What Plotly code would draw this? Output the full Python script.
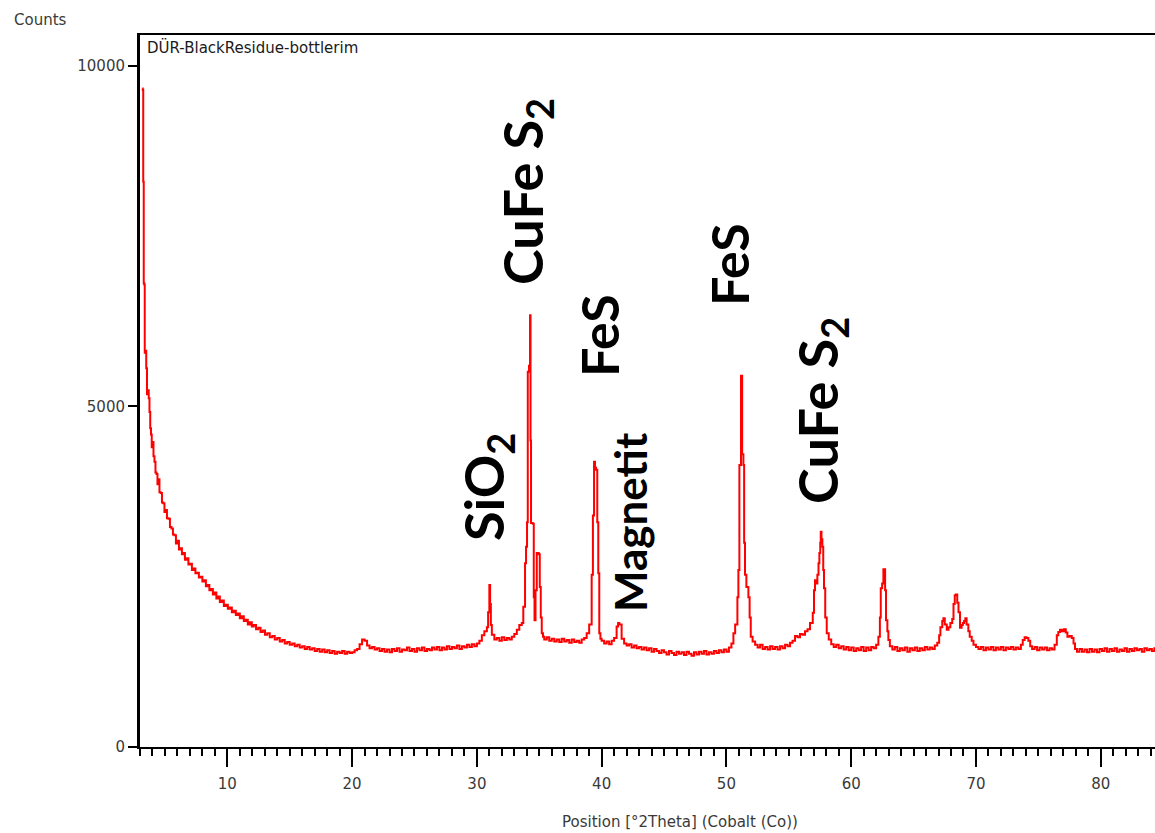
import plotly.graph_objects as go

# ---- data ----
theta_low = [3.18, 3.22, 3.26, 3.30, 3.34, 3.38, 3.44, 3.50, 3.56, 3.62, 3.70, 3.76, 3.82, 3.88, 3.94,
             4.00, 4.08, 4.16, 4.24, 4.32, 4.40, 4.48, 4.56, 4.66, 4.76, 4.86, 4.96, 5.06, 5.16, 5.28,
             5.40, 5.52, 5.64, 5.76, 5.88, 6.00, 6.12, 6.24, 6.36, 6.48, 6.60, 6.74, 6.88, 7.02, 7.16,
             7.30, 7.44, 7.58, 7.72, 7.86, 8.00, 8.14, 8.28, 8.42, 8.56, 8.70, 8.84, 8.98, 9.12, 9.26,
             9.40, 9.56, 9.72, 9.88, 10.04, 10.20, 10.36, 10.52, 10.68, 10.84, 11.00, 11.16, 11.32,
             11.48, 11.64, 11.80, 11.96, 12.12, 12.30, 12.48, 12.66, 12.84, 13.02, 13.20, 13.40, 13.60,
             13.80, 14.00, 14.20, 14.40, 14.60, 14.80, 15.00, 15.20, 15.40, 15.60, 15.80, 16.00, 16.20,
             16.40, 16.60, 16.80, 17.00, 17.20, 17.40, 17.60, 17.80, 18.00, 18.20, 18.40, 18.60, 18.80,
             19.00, 19.20, 19.40, 19.60, 19.80]
counts_low = [9670, 9650, 8300, 6810, 6790, 5790, 5820, 5560, 5180, 5240, 5120, 4920, 4680, 4590, 4400,
              4480, 4270, 4190, 4030, 4010, 3860, 3930, 3740, 3730, 3590, 3580, 3450, 3480, 3360, 3350,
              3230, 3210, 3120, 3110, 2990, 3030, 2900, 2920, 2830, 2850, 2750, 2770, 2680, 2690, 2600,
              2620, 2550, 2560, 2490, 2500, 2430, 2450, 2360, 2380, 2300, 2320, 2240, 2270, 2180, 2210,
              2130, 2150, 2070, 2090, 2030, 2050, 1980, 2000, 1940, 1960, 1890, 1920, 1850,
              1870, 1800, 1830, 1770, 1790, 1730, 1750, 1690, 1710, 1650, 1670, 1610, 1630,
              1580, 1600, 1550, 1570, 1520, 1540, 1500, 1520, 1480, 1500, 1460, 1480, 1440,
              1470, 1430, 1450, 1410, 1440, 1400, 1430, 1390, 1420, 1380, 1410, 1370, 1400,
              1380, 1410, 1370, 1400, 1380]

theta_mid = [20.0, 20.2, 20.4, 20.6, 20.8, 21.0, 21.2, 21.4, 21.6, 21.8, 22.0, 22.2, 22.4, 22.6, 22.8,
             23.0, 23.2, 23.4, 23.6, 23.8, 24.0, 24.2, 24.4, 24.6, 24.8, 25.0, 25.2, 25.4, 25.6, 25.8,
             26.0, 26.2, 26.4, 26.6, 26.8, 27.0, 27.2, 27.4, 27.6, 27.8, 28.0, 28.2, 28.4, 28.6, 28.8,
             29.0, 29.2, 29.4, 29.6, 29.8, 30.0, 30.2, 30.4, 30.6, 30.8, 30.9, 31.0, 31.06, 31.12, 31.2,
             31.4, 31.6, 31.8, 32.0, 32.2, 32.4, 32.6, 32.8, 33.0, 33.2, 33.4, 33.6, 33.72, 33.86, 33.94,
             34.02, 34.08, 34.18, 34.26, 34.30, 34.34, 34.48, 34.56, 34.62, 34.70, 34.80, 34.96, 35.04,
             35.12, 35.2, 35.3, 35.4, 35.6, 35.8, 36.0, 36.2, 36.4, 36.6, 36.8, 37.0, 37.2, 37.4, 37.6,
             37.8, 38.0, 38.2, 38.4, 38.6, 38.8, 39.0, 39.2, 39.3, 39.39, 39.47, 39.55, 39.65, 39.73,
             39.81, 39.9, 40.0, 40.2, 40.4, 40.6, 40.8, 41.0, 41.2, 41.32, 41.42, 41.6, 41.8]
counts_mid = [1390, 1420, 1440, 1510, 1580, 1560, 1490, 1450, 1470, 1430, 1450, 1410, 1440, 1400, 1430,
              1390, 1440, 1410, 1450, 1400, 1430, 1420, 1460, 1410, 1440, 1400, 1450, 1420, 1460, 1410,
              1440, 1420, 1460, 1430, 1470, 1420, 1460, 1430, 1480, 1440, 1470, 1450, 1490, 1440, 1480,
              1460, 1500, 1470, 1510, 1480, 1520, 1560, 1640, 1700, 1760, 1980, 2380, 2100, 1790, 1650,
              1580, 1600, 1560, 1610, 1570, 1600, 1580, 1620, 1660, 1720, 1790, 1820, 2060, 2700, 2940,
              3300, 5510, 5600, 6340, 4500, 3290, 3280, 2200, 1860, 2300, 2850, 2830, 2350,
              1900, 1670, 1620, 1580, 1610, 1560, 1590, 1550, 1580, 1540, 1590, 1550, 1570, 1530, 1580,
              1540, 1560, 1530, 1580, 1600, 1670, 1800, 2530, 3400, 4190, 4100, 4070, 3300, 2550,
              1670, 1590, 1560, 1520, 1550, 1510, 1560, 1600, 1770, 1820, 1800, 1590, 1520]

theta_high = [42.0, 42.2, 42.4, 42.6, 42.8, 43.0, 43.2, 43.4, 43.6, 43.8, 44.0, 44.2, 44.4, 44.6, 44.8,
              45.0, 45.2, 45.4, 45.6, 45.8, 46.0, 46.2, 46.4, 46.6, 46.8, 47.0, 47.2, 47.4, 47.6, 47.8,
              48.0, 48.2, 48.4, 48.6, 48.8, 49.0, 49.2, 49.4, 49.6, 49.8, 50.0, 50.2, 50.4, 50.56, 50.7,
              50.88, 50.96, 51.04, 51.17, 51.26, 51.36, 51.42, 51.49, 51.6, 51.76, 51.86, 51.95, 52.1,
              52.3, 52.5, 52.7, 52.9, 53.1, 53.3, 53.5, 53.7, 53.9, 54.1, 54.3, 54.5, 54.7, 54.9, 55.1,
              55.3, 55.5, 55.7, 55.9, 56.1, 56.3, 56.5, 56.7, 56.92, 57.02, 57.1, 57.2, 57.29, 57.38,
              57.45, 57.52, 57.56, 57.62, 57.69, 57.76, 57.82, 57.92, 58.04, 58.2, 58.4, 58.6, 58.8,
              59.0, 59.2, 59.4, 59.6, 59.8, 60.0, 60.2, 60.4, 60.6, 60.8, 61.0, 61.2, 61.4, 61.6, 61.8]
counts_high = [1490, 1510, 1460, 1490, 1450, 1470, 1430, 1460, 1420, 1450, 1400, 1440, 1410, 1380, 1420,
               1390, 1360, 1410, 1380, 1350, 1400, 1370, 1390, 1350, 1400, 1370, 1340, 1390, 1360, 1400,
               1370, 1410, 1360, 1390, 1370, 1410, 1380, 1420, 1390, 1430, 1400, 1460, 1520, 1670, 1800,
               2200, 2600, 4140, 5450, 4300, 4140, 3000, 2530, 2350, 2200, 1900, 1620, 1550,
               1500, 1460, 1500, 1440, 1470, 1430, 1480, 1440, 1470, 1430, 1480, 1450, 1500, 1480, 1530,
               1560, 1630, 1610, 1660, 1650, 1700, 1730, 1820, 1970, 2300, 2450, 2400, 2530, 2700,
               2850, 3000, 3160, 3050, 2940, 2600, 2330, 1900, 1670, 1580, 1510, 1470, 1500,
               1450, 1480, 1430, 1470, 1420, 1460, 1410, 1450, 1420, 1470, 1410, 1460, 1420, 1470, 1450]

theta_tail = [62.0, 62.18, 62.3, 62.37, 62.48, 62.58, 62.66, 62.72, 62.79, 62.9, 62.98, 63.1, 63.3, 63.5,
              63.7, 63.9, 64.1, 64.3, 64.5, 64.7, 64.9, 65.1, 65.3, 65.5, 65.7, 65.9, 66.1, 66.3, 66.5,
              66.7, 66.9, 67.05, 67.15, 67.3, 67.39, 67.5, 67.66, 67.8, 67.95, 68.1, 68.2, 68.3, 68.4,
              68.5, 68.6, 68.72, 68.85, 68.95, 69.05, 69.15, 69.25, 69.39, 69.5, 69.66, 69.8, 70.0, 70.2,
              70.4, 70.6, 70.8, 71.0, 71.2, 71.4, 71.6, 71.8, 72.0, 72.2, 72.4, 72.6, 72.8, 73.0, 73.2,
              73.4, 73.6, 73.75, 73.9, 74.05, 74.2, 74.35, 74.5, 74.7, 74.9, 75.1, 75.3, 75.5, 75.7,
              75.9, 76.1, 76.3, 76.48, 76.6, 76.74, 76.9, 77.06, 77.2, 77.33, 77.5, 77.68, 77.82, 77.94,
              78.1, 78.3, 78.5, 78.7, 78.9, 79.1, 79.3, 79.5, 79.7, 79.9, 80.1, 80.3, 80.5, 80.7, 80.9,
              81.1, 81.3, 81.5, 81.7, 81.9, 82.1, 82.3, 82.5, 82.7, 82.9, 83.1, 83.3, 83.5, 83.7, 83.9,
              84.1, 84.3, 84.5, 85.0]
counts_tail = [1500, 1620, 1900, 2330, 2400, 2610, 2610, 2300, 1860, 1700, 1570, 1480, 1430, 1470,
               1410, 1450, 1420, 1460, 1400, 1450, 1420, 1460, 1410, 1450, 1420, 1470, 1430, 1460, 1440,
               1490, 1530, 1640, 1760, 1850, 1890, 1800, 1720, 1760, 1820, 1880, 2100, 2230, 2240,
               2120, 1980, 1750, 1790, 1820, 1850, 1890, 1800, 1700, 1620, 1560, 1500, 1470, 1440,
               1470, 1420, 1460, 1430, 1470, 1420, 1460, 1430, 1470, 1420, 1460, 1440, 1470, 1430, 1460,
               1440, 1500, 1570, 1610, 1600, 1560, 1480, 1440, 1470, 1420, 1460, 1430, 1460, 1420,
               1450, 1430, 1500, 1640, 1690, 1720, 1700, 1730, 1680, 1620, 1630, 1600, 1520, 1440,
               1400, 1440, 1400, 1430, 1390, 1440, 1400, 1430, 1390, 1440, 1410, 1450, 1400, 1440, 1410,
               1450, 1400, 1430, 1410, 1450, 1400, 1440, 1410, 1450, 1420, 1440, 1400, 1450, 1420, 1440,
               1410, 1450, 1420, 1440]

x_ticks = [10, 20, 30, 40, 50, 60, 70, 80]
y_ticks = [0, 5000, 10000]
y_tick_text = ["0", "5000", "10000"]

# phase labels: text, 2theta, counts (label centre), font size
phase_text = ["SiO<sub>2</sub>", "CuFe S<sub>2</sub>", "FeS", "Magnetit", "FeS", "CuFe S<sub>2</sub>"]
phase_x = [30.82, 33.94, 39.79, 42.28, 50.21, 57.58]
phase_y = [3818, 8150, 6035, 3304, 7078, 4949]
phase_size = [54, 54, 52, 44, 52, 54]

sample_name = "DÜR-BlackResidue-bottlerim"

two_theta = theta_low + theta_mid + theta_high + theta_tail
counts = counts_low + counts_mid + counts_high + counts_tail

small_font = dict(family="DejaVu Sans", size=15, color="#3a3a3a")

fig = go.Figure()
fig.add_trace(go.Scatter(
    x=two_theta, y=counts, mode="lines",
    line=dict(color="#ff0000", width=2, shape="hv"),
    showlegend=False, hoverinfo="skip",
))

for t, px, py, sz in zip(phase_text, phase_x, phase_y, phase_size):
    fig.add_annotation(x=px, y=py, xref="x", yref="y", text=t, textangle=-90,
                       showarrow=False, xanchor="center", yanchor="middle",
                       font=dict(family="Lato", size=sz, color="#000000", weight="bold"))

fig.add_annotation(x=-0.126, y=1.021, xref="paper", yref="paper", text="Counts",
                   showarrow=False, xanchor="left", yanchor="middle", font=small_font)
fig.add_annotation(x=0.005, y=0.983, xref="paper", yref="paper", text=sample_name,
                   showarrow=False, xanchor="left", yanchor="middle",
                   font=dict(family="DejaVu Sans", size=15, color="#1a1a1a"))
fig.add_annotation(x=0.532, y=-0.105, xref="paper", yref="paper",
                   text="Position [°2Theta] (Cobalt (Co))",
                   showarrow=False, xanchor="center", yanchor="middle", font=small_font)

fig.update_layout(
    width=1155, height=833,
    margin=dict(l=140, r=0, t=35, b=86),
    paper_bgcolor="white", plot_bgcolor="white",
    showlegend=False,
)
fig.update_xaxes(
    range=[3.0, 84.35], tickvals=x_ticks, ticks="outside", ticklen=18, tickwidth=2,
    tickcolor="black", showline=True, linecolor="black", linewidth=2, mirror=True,
    showgrid=False, zeroline=False, tickfont=small_font, ticklabelstandoff=4,
    minor=dict(dtick=1, tick0=0, ticks="outside", ticklen=7, tickwidth=1.5, tickcolor="black",
               showgrid=False),
)
fig.update_yaxes(
    range=[0, 10455], tickvals=y_ticks, ticktext=y_tick_text, ticks="outside", ticklen=9,
    tickwidth=2, tickcolor="black", showline=True, linecolor="black", linewidth=3, mirror=False,
    showgrid=False, zeroline=False, tickfont=small_font,
)

fig.write_html(
    "out.html",
    config={"displayModeBar": False},
    post_script="document.body.style.margin='0';document.body.style.overflow='hidden';",
)
